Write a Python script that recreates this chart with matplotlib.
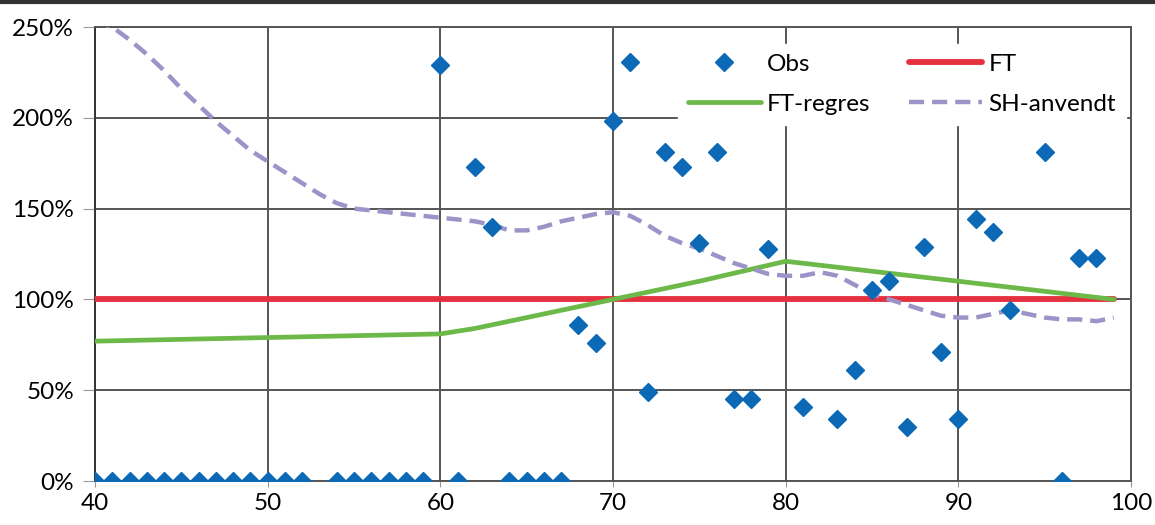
import matplotlib.pyplot as plt
from matplotlib.lines import Line2D
from matplotlib.ticker import FuncFormatter, MultipleLocator

plt.rcParams['font.family'] = ['Lato', 'DejaVu Sans']

# Observed points (age, ratio)
obs_x = [40, 41, 42, 43, 44, 45, 46, 47, 48, 49, 50, 51, 52,
         54, 55, 56, 57, 58, 59, 60, 61, 62, 63, 64, 65, 66, 67,
         68, 69, 70, 71, 72, 73, 74, 75, 76, 77, 78, 79,
         81, 83, 84, 85, 86, 87, 88, 89, 90, 91, 92, 93, 95, 96, 97, 98]
obs_y = [0, 0, 0, 0, 0, 0, 0, 0, 0, 0, 0, 0, 0,
         0, 0, 0, 0, 0, 0, 2.29, 0, 1.73, 1.40, 0, 0, 0, 0,
         0.86, 0.76, 1.98, 2.31, 0.49, 1.81, 1.73, 1.31, 1.81, 0.45, 0.45, 1.28,
         0.41, 0.34, 0.61, 1.05, 1.10, 0.30, 1.29, 0.71, 0.34, 1.44, 1.37, 0.94, 1.81, 0.0, 1.23, 1.23]

# FT
ft_x = [40, 99]
ft_y = [1.00, 1.00]

# FT-regres
reg_x = [40, 50, 60, 62, 64, 66, 68, 70, 75, 80, 90, 99]
reg_y = [0.77, 0.79, 0.81, 0.84, 0.88, 0.92, 0.96, 1.00, 1.10, 1.21, 1.10, 1.00]

# SH-anvendt
sh_x = [40, 41, 42, 43, 44, 45, 46, 47, 48, 49, 50, 51, 52, 53, 54, 55, 56, 57, 58, 59,
        60, 61, 62, 63, 64, 65, 66, 67, 68, 69, 70, 71, 72, 73, 74, 75, 76, 77, 78, 79,
        80, 81, 82, 83, 84, 85, 86, 87, 88, 89, 90, 91, 92, 93, 94, 95, 96, 97, 98, 99]
sh_y = [2.53, 2.50, 2.43, 2.35, 2.26, 2.16, 2.07, 1.98, 1.90, 1.82, 1.76, 1.70, 1.64, 1.58, 1.53, 1.50, 1.49, 1.48, 1.47, 1.46,
        1.45, 1.44, 1.43, 1.41, 1.38, 1.38, 1.40, 1.43, 1.45, 1.47, 1.48, 1.46, 1.41, 1.35, 1.31, 1.28, 1.24, 1.20, 1.17, 1.14,
        1.13, 1.13, 1.15, 1.13, 1.08, 1.03, 1.00, 0.97, 0.94, 0.91, 0.90, 0.90, 0.92, 0.94, 0.92, 0.90, 0.89, 0.89, 0.88, 0.90]

fig = plt.figure(figsize=(11.55, 5.25), dpi=100)
ax = fig.add_axes([95 / 1155, 1 - 481 / 525, (1131 - 95) / 1155, (481 - 27) / 525])

ax.plot(ft_x, ft_y, color='#e4303f', lw=4.2, solid_capstyle='round', label='FT', zorder=3)
ax.plot(reg_x, reg_y, color='#6cb94a', lw=3.4, solid_capstyle='round', label='FT-regres', zorder=3)
ax.plot(sh_x, sh_y, color='#9c94c8', lw=3.2, ls=(0, (3.4, 1.8)), label='SH-anvendt', zorder=3)
ax.plot(obs_x, obs_y, ls='none', marker='D', ms=9.5, color='#0c69b6', label='Obs', zorder=4)

ax.set_xlim(40, 100)
ax.set_ylim(0, 2.5)
ax.xaxis.set_major_locator(MultipleLocator(10))
ax.yaxis.set_major_locator(MultipleLocator(0.5))
ax.yaxis.set_major_formatter(FuncFormatter(lambda v, p: f"{v * 100:.0f}%"))
ax.grid(True, color='#555555', lw=1.4, zorder=0)
ax.set_axisbelow(True)
for s in ax.spines.values():
    s.set_color('#555555')
    s.set_linewidth(1.4)
ax.spines['left'].set_color('#333333')
ax.tick_params(axis='both', color='#999999', labelsize=17.5, labelcolor='black')
ax.tick_params(axis='x', length=4, pad=5)
ax.tick_params(axis='y', length=9, pad=6)

h, l = ax.get_legend_handles_labels()
order = [3, 1, 0, 2]  # Obs, FT-regres | FT, SH-anvendt
leg = ax.legend([h[i] for i in order], [l[i] for i in order], ncol=2, loc='upper left',
                bbox_to_anchor=(0.563, 0.963), frameon=True, fontsize=17.5, handlelength=3.0,
                columnspacing=1.6, handletextpad=0.25, labelspacing=0.8, borderpad=0.4,
                borderaxespad=0)
leg.get_frame().set_edgecolor('white')
leg.get_frame().set_facecolor('white')
leg.get_frame().set_alpha(1)
leg.get_frame().set_boxstyle('square', pad=0)

# dark border line at the top of the picture
fig.add_artist(Line2D([0, 1], [0.996, 0.996], transform=fig.transFigure, color='#333333', lw=3))

plt.savefig('out.png', dpi=100)
